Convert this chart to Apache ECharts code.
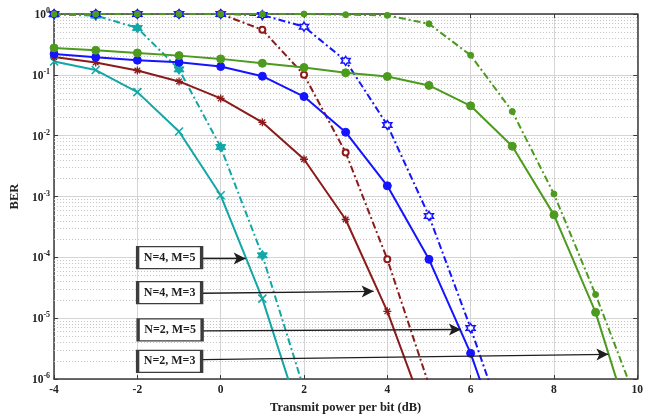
<!DOCTYPE html>
<html>
<head>
<meta charset="utf-8">
<script src="https://cdn.jsdelivr.net/npm/echarts@6/dist/echarts.min.js"></script>
<style>
html,body{margin:0;padding:0;background:#fff;}
#c{width:646px;height:419px;}
</style>
</head>
<body>
<div id="c"></div>
<script>
// ---- data ----
var snr = [-4, -3, -2, -1, 0, 1, 2, 3, 4, 5, 6, 7, 8, 9, 10];
var xTicks = [-4, -2, 0, 2, 4, 6, 8, 10];
var yDecades = [1e-6, 1e-5, 1e-4, 1e-3, 1e-2, 1e-1, 1];
var minorMult = [2, 3, 4, 5, 6, 7, 8, 9];

var berN4M5 = [0.166, 0.12, 0.052, 0.0117, 0.00105, 2.1e-5, 1.55e-7];
var berN4M5d = [0.98, 0.94, 0.59, 0.123, 0.0065, 1.08e-4, 6.8e-7];
var berN4M3 = [0.197, 0.16, 0.118, 0.078, 0.041, 0.0166, 0.0041, 4.2e-4, 1.3e-5, 1.8e-7];
var berN4M3d = [1, 1, 1, 1, 1, 0.55, 0.1, 0.0053, 9.3e-5, 8e-7];
var berN2M5 = [0.22, 0.195, 0.174, 0.161, 0.137, 0.095, 0.044, 0.0114, 0.0015, 9.3e-5, 2.65e-6, 3e-8];
var berN2M5d = [1, 1, 1, 1, 1, 0.96, 0.62, 0.17, 0.015, 4.8e-4, 6.9e-6, 7e-8];
var berN2M3 = [0.277, 0.253, 0.229, 0.207, 0.183, 0.155, 0.132, 0.108, 0.094, 0.067, 0.031, 0.0067, 5.0e-4, 1.25e-5, 8e-8];
var berN2M3d = [1, 1, 1, 1, 1, 1, 1, 0.975, 0.95, 0.69, 0.21, 0.025, 0.0011, 2.45e-5, 4e-7];

var annLabels = ['N=4, M=5', 'N=4, M=3', 'N=2, M=5', 'N=2, M=3'];
var annBoxX = [-1.226, -1.226, -1.214, -1.226];
var annBoxY = [9.93e-5, 2.64e-5, 6.44e-6, 1.96e-6];
var annFromX = [-0.48, -0.435, -0.459, -0.459];
var annFromY = [9.55e-5, 2.58e-5, 6.21e-6, 2.09e-6];
var annToX = [0.60, 3.672, 5.766, 9.307];
var annToY = [9.55e-5, 2.77e-5, 6.52e-6, 2.55e-6];

// ---- styling ----
var FONT = 'Liberation Serif';
var cCyan = '#13a6a6', cRed = '#8b1a1a', cBlue = '#1414ff', cGreen = '#4c9a1e';
var DASHDOT = [7, 3, 2, 3];
var HEX = 'path://M50,0L64.43,25L93.3,25L78.87,50L93.3,75L64.43,75L50,100L35.57,75L6.7,75L21.13,50L6.7,25L35.57,25Z';
var XMARK = 'path://M0,0L100,100M100,0L0,100';
var AST = 'path://M50,0L50,100M0,50L100,50M15,15L85,85M85,15L15,85';

function pairs(vals) {
  return vals.map(function (v, i) { return [snr[i], v]; });
}
function mk(name, vals, color, dashed, symbol, size, fill, bw) {
  return {
    name: name, type: 'line', data: pairs(vals),
    symbol: symbol, symbolSize: size, showSymbol: true,
    lineStyle: { color: color, width: 2, type: dashed ? DASHDOT : 'solid' },
    itemStyle: { color: fill, borderColor: color, borderWidth: bw },
    z: 3, animation: false, clip: true
  };
}

var minorLines = [];
for (var d = 0; d < yDecades.length - 1; d++) {
  minorMult.forEach(function (m) {
    var v = m * yDecades[d];
    minorLines.push([{ coord: [-4, v] }, { coord: [10, v] }]);
  });
}

var series = [
  {
    name: 'grid', type: 'line', data: [], silent: true,
    markLine: {
      silent: true, symbol: 'none', z: 1, animation: false,
      label: { show: false },
      lineStyle: { color: '#c4c4c4', width: 1, type: [1, 2] },
      data: minorLines
    }
  },
  mk('N=4, M=5', berN4M5, cCyan, false, XMARK, 8, cCyan, 1.5),
  mk('N=4, M=5 d', berN4M5d, cCyan, true, HEX, 10, cCyan, 1),
  mk('N=4, M=3', berN4M3, cRed, false, AST, 8, cRed, 1.3),
  mk('N=4, M=3 d', berN4M3d, cRed, true, 'emptyCircle', 6, cRed, 1.5),
  mk('N=2, M=5', berN2M5, cBlue, false, 'circle', 8, cBlue, 1),
  mk('N=2, M=5 d', berN2M5d, cBlue, true, HEX, 9, '#fff', 1.5),
  mk('N=2, M=3', berN2M3, cGreen, false, 'circle', 8, cGreen, 1),
  mk('N=2, M=3 d', berN2M3d, cGreen, true, 'circle', 6, cGreen, 1),
  {
    name: 'annotations', type: 'line', data: [], silent: true, z: 5,
    markLine: {
      silent: true, z: 5, animation: false,
      symbol: ['none', 'arrow'], symbolSize: [9, 12],
      label: { show: false },
      lineStyle: { color: '#1e1e1e', width: 1.4, type: 'solid' },
      data: annLabels.map(function (t, i) {
        return [{ coord: [annFromX[i], annFromY[i]] }, { coord: [annToX[i], annToY[i]] }];
      })
    },
    markPoint: {
      silent: true, z: 6, animation: false,
      symbol: 'rect', symbolSize: [64, 22],
      itemStyle: { color: '#fff', borderColor: '#3c3c3c', borderWidth: 2 },
      label: { show: true, position: 'inside', color: '#1e1e1e', fontFamily: FONT, fontWeight: 'bold', fontSize: 12,
        formatter: function (p) { return p.name; } },
      data: annLabels.map(function (t, i) { return { name: t, coord: [annBoxX[i], annBoxY[i]] }; })
    }
  }
];

var axLine = { show: true, onZero: false, lineStyle: { color: '#3a3a3a', width: 1.5 } };
var axTick = { show: true, inside: true, length: 4, lineStyle: { color: '#3a3a3a' } };

var chart = echarts.init(document.getElementById('c'), null, { renderer: 'canvas' });
chart.setOption({
  backgroundColor: '#fff',
  animation: false,
  grid: { left: 48, right: 5, top: 14, bottom: 36, show: false },
  xAxis: [{
    type: 'value', min: -4, max: 10, interval: 2, position: 'bottom',
    name: 'Transmit power per bit (dB)', nameLocation: 'middle', nameGap: 20,
    nameTextStyle: { fontFamily: FONT, fontWeight: 'bold', fontSize: 12.5, color: '#222' },
    axisLine: axLine, axisTick: axTick,
    axisLabel: { fontFamily: FONT, fontWeight: 'bold', fontSize: 11.5, color: '#222', margin: 5,
      formatter: function (v) { return xTicks.indexOf(v) >= 0 ? String(v) : ''; } },
    splitLine: { show: true, lineStyle: { color: '#d4d4d4', width: 1 } }
  }, {
    type: 'value', min: -4, max: 10, interval: 2, position: 'top',
    axisLine: axLine, axisTick: axTick,
    axisLabel: { show: false }, splitLine: { show: false }
  }],
  yAxis: [{
    type: 'log', logBase: 10, min: 1e-6, max: 1, position: 'left',
    name: 'BER', nameLocation: 'middle', nameGap: 32,
    nameTextStyle: { fontFamily: FONT, fontWeight: 'bold', fontSize: 12.5, color: '#222' },
    axisLine: axLine, axisTick: axTick,
    axisLabel: {
      margin: 4, color: '#222',
      formatter: function (v) {
        var e = Math.round(Math.log10(v));
        return '{b|10}{s|' + e + '}';
      },
      rich: {
        b: { fontFamily: FONT, fontWeight: 'bold', fontSize: 11.5, color: '#222', verticalAlign: 'bottom', lineHeight: 14 },
        s: { fontFamily: FONT, fontWeight: 'bold', fontSize: 8, color: '#222', verticalAlign: 'bottom', lineHeight: 14, padding: [0, 0, 6, 0] }
      }
    },
    splitLine: { show: true, lineStyle: { color: '#d4d4d4', width: 1 } }
  }, {
    type: 'log', logBase: 10, min: 1e-6, max: 1, position: 'right',
    axisLine: axLine, axisTick: axTick,
    axisLabel: { show: false }, splitLine: { show: false }
  }],
  series: series
});
</script>
</body>
</html>
